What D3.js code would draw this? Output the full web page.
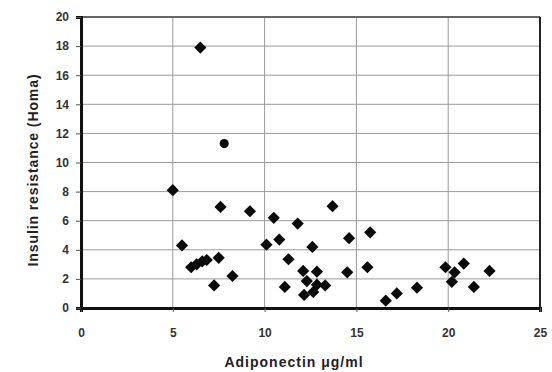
<!DOCTYPE html>
<html>
<head>
<meta charset="utf-8">
<script src="https://cdn.jsdelivr.net/npm/d3@7/dist/d3.min.js"></script>
<style>
  body { margin: 0; background: #fff; }
  text { font-family: "Liberation Sans", Arial, sans-serif; fill: #222; }
</style>
</head>
<body>
<div id="chart"></div>
<script>
// data
var adiponectin = [5.0, 6.5, 7.8, 5.5, 6.0, 6.3, 6.6, 6.85, 7.5, 7.25, 8.25, 7.6, 9.2, 10.5,
  10.1, 10.8, 11.3, 11.8, 13.7, 12.6, 14.6, 15.75, 12.1, 12.85, 14.5, 15.6, 11.1, 12.3,
  12.85, 13.3, 12.15, 12.65, 16.6, 17.2, 18.3, 19.85, 20.35, 20.85, 20.2, 21.4, 22.25];
var homa = [8.1, 17.9, 11.3, 4.3, 2.8, 3.0, 3.2, 3.3, 3.45, 1.55, 2.2, 6.95, 6.65, 6.2,
  4.35, 4.7, 3.35, 5.8, 7.0, 4.2, 4.8, 5.2, 2.55, 2.5, 2.45, 2.8, 1.45, 1.85,
  1.6, 1.55, 0.9, 1.1, 0.5, 1.0, 1.4, 2.8, 2.45, 3.05, 1.8, 1.45, 2.55];
var xTicks = [0, 5, 10, 15, 20, 25];
var yTicks = [0, 2, 4, 6, 8, 10, 12, 14, 16, 18, 20];
var xTitle = "Adiponectin \u03bcg/ml";
var yTitle = "Insulin resistance (Homa)";

var w = 552, h = 372;
var pLeft = 81, pRight = 540, pTop = 17, pBottom = 308;

var svg = d3.select("#chart").append("svg")
  .attr("width", w)
  .attr("height", h);

var x = d3.scaleLinear().domain([0, 25]).range([pLeft, pRight]);
var y = d3.scaleLinear().domain([0, 20]).range([pBottom, pTop]);

// gridlines
svg.selectAll(".hgrid")
  .data(yTicks.filter(function (d) { return d > 0 && d < 20; }))
  .enter().append("line")
  .attr("x1", pLeft).attr("x2", pRight)
  .attr("y1", function (d) { return y(d); })
  .attr("y2", function (d) { return y(d); })
  .style("stroke", "#9a9a9a")
  .style("stroke-width", 1);

svg.selectAll(".vgrid")
  .data(xTicks.filter(function (d) { return d > 0 && d < 25; }))
  .enter().append("line")
  .attr("x1", function (d) { return x(d); })
  .attr("x2", function (d) { return x(d); })
  .attr("y1", pTop).attr("y2", pBottom)
  .style("stroke", "#9a9a9a")
  .style("stroke-width", 1);

// frame
svg.append("line").attr("x1", pLeft).attr("x2", pRight).attr("y1", pTop).attr("y2", pTop)
  .style("stroke", "#666").style("stroke-width", 2);
svg.append("line").attr("x1", pRight).attr("x2", pRight).attr("y1", pTop).attr("y2", pBottom)
  .style("stroke", "#222").style("stroke-width", 2);

// axes
var xAxis = d3.axisBottom(x).tickValues(xTicks).tickSize(4).tickPadding(16);
var yAxis = d3.axisLeft(y).tickValues(yTicks).tickSize(5).tickPadding(7);

var gx = svg.append("g").attr("transform", "translate(0," + pBottom + ")").call(xAxis);
var gy = svg.append("g").attr("transform", "translate(" + pLeft + ",0)").call(yAxis);

[gx, gy].forEach(function (g) {
  g.select(".domain").style("stroke", "#111").style("stroke-width", 3);
  g.selectAll(".tick line").style("stroke", "#555").style("stroke-width", 1);
  g.selectAll(".tick text")
    .style("font-size", "12px")
    .style("font-weight", "bold")
    .style("fill", "#333")
    .style("font-family", "'Liberation Sans', Arial, sans-serif");
});

// titles
svg.append("text")
  .attr("x", 294)
  .attr("y", 367)
  .attr("text-anchor", "middle")
  .style("font-size", "14px")
  .style("font-weight", "bold")
  .style("letter-spacing", "1px")
  .text(xTitle);

svg.append("text")
  .attr("transform", "translate(38,170) rotate(-90)")
  .attr("text-anchor", "middle")
  .style("font-size", "14px")
  .style("font-weight", "bold")
  .style("letter-spacing", "0.9px")
  .text(yTitle);

// points
var pts = adiponectin.map(function (a, i) { return [a, homa[i]]; });
var diamond = d3.symbol().type(d3.symbolDiamond2).size(95);

svg.selectAll(".pt")
  .data(pts)
  .enter().append("path")
  .attr("d", function (d, i) {
    return i == 2 ? d3.symbol().type(d3.symbolCircle).size(65)() : diamond();
  })
  .attr("transform", function (d) { return "translate(" + x(d[0]) + "," + y(d[1]) + ")"; })
  .style("fill", "#0a0a0a");
</script>
</body>
</html>
